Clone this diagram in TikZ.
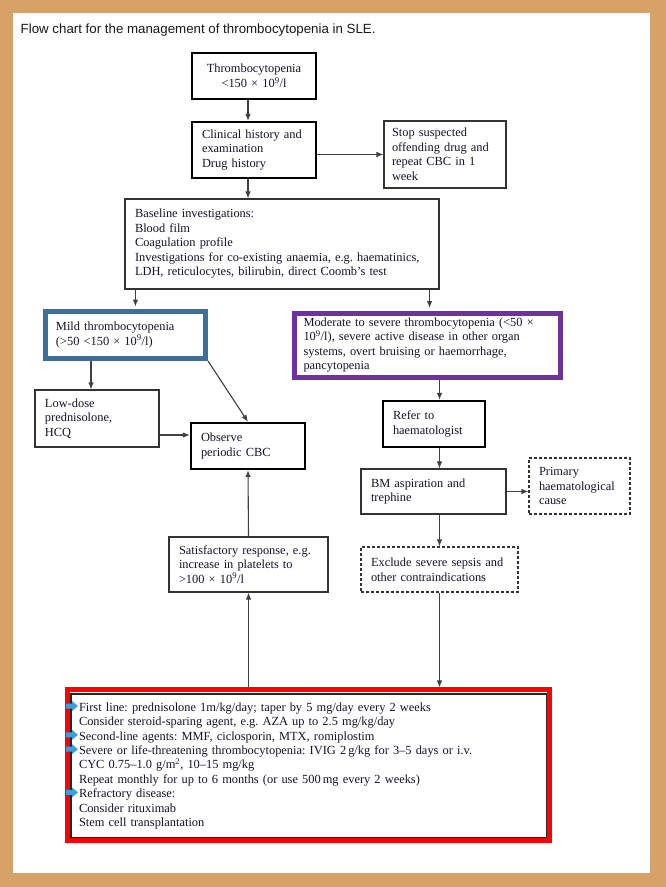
\documentclass[tikz,border=0pt]{standalone}
\usepackage{fontspec}
\setmainfont{Liberation Serif}
\newfontfamily\titlefont{Liberation Sans}
\usetikzlibrary{arrows.meta}
\usepackage{xcolor}
\frenchspacing

\definecolor{cork}{RGB}{214,162,104}
\definecolor{inkblue}{RGB}{20,20,42}
\definecolor{mildblue}{RGB}{64,110,155}
\definecolor{modpurple}{RGB}{112,48,160}
\definecolor{markcyan}{RGB}{58,160,220}

% small block arrow in front of a line of the bottom box
\newcommand{\cyanmark}[2]{%
  \fill[markcyan] (#1,#2) ++(0,-2.5) -- ++(6,0) -- ++(0,-2.5) -- ++(6,5)
    -- ++(-6,5) -- ++(0,-2.5) -- ++(-6,0) -- cycle;}

\begin{document}
\begin{tikzpicture}[x=1pt, y=-1pt,
		box/.style={rectangle, draw=black!80, line width=1.1pt, inner xsep=10pt, inner ysep=0pt,
			align=left, text=inkblue, font=\fontsize{12.4}{14.5}\selectfont},
		thickbox/.style={box, draw=black, line width=2.2pt},
		dashbox/.style={box, dash pattern=on 3pt off 2pt},
		arr/.style={draw=black!75, line width=1.1pt, -{Latex[length=7pt,width=5.5pt]}}]
		\fill[cork] (0,0) rectangle (666,887);
		\fill[white] (13,13) rectangle (650,873);
		\useasboundingbox (0,0) rectangle (666,887);

		\node[anchor=base west, inner sep=0pt, text=black!90,
			font=\titlefont\fontsize{13.3}{16}\selectfont] (title) at (20.5,33)
			{Flow chart for the management of thrombocytopenia in SLE.};

		\begin{scope}
			\node[thickbox, align=center, minimum width=124pt, minimum height=46pt, text width=104pt]
				(thromb) at (254,76) {Thrombocytopenia\\<150 × 10\textsuperscript{9}/l};
			\node[thickbox, minimum width=124pt, minimum height=56pt, text width=104pt]
				(clin) at (254,150) {Clinical history and\\examination\\Drug history};
			\node[box, inner xsep=8pt, minimum width=122pt, minimum height=67pt, text width=106pt]
				(stop) at (445,154.5) {Stop suspected\\offending drug and\\repeat CBC in 1\\week};
			\node[box, minimum width=314pt, minimum height=90pt, text width=294pt]
				(base) at (282,244) {Baseline investigations:\\Blood film\\Coagulation profile\\
				Investigations for co-existing anaemia, e.g. haematinics,\\
				LDH, reticulocytes, bilirubin, direct Coomb’s test};
			\node[box, draw=mildblue, line width=5pt, inner xsep=10.5pt, minimum width=160pt,
				minimum height=47pt, text width=139pt]
				(mild) at (125.5,335) {Mild thrombocytopenia\\(>50 <150 × 10\textsuperscript{9}/l)};
			\node[box, draw=modpurple, line width=5pt, inner xsep=9pt, minimum width=266pt,
				minimum height=64pt, text width=248pt]
				(mod) at (427.5,345) {Moderate to severe thrombocytopenia (<50 ×\\
				10\textsuperscript{9}/l), severe active disease in other organ\\
				systems, overt bruising or haemorrhage,\\pancytopenia};
			\node[box, minimum width=124pt, minimum height=57pt, text width=104pt]
				(low) at (97,418.5) {Low-dose\\prednisolone,\\HCQ};
			\node[thickbox, minimum width=114pt, minimum height=46pt, text width=94pt]
				(obs) at (248,446) {Observe\\periodic CBC};
			\node[thickbox, minimum width=102pt, minimum height=46pt, text width=82pt]
				(refer) at (434,424) {Refer to\\haematologist};
			\node[box, minimum width=145pt, minimum height=45pt, text width=125pt]
				(bm) at (433.5,491.5) {BM aspiration and\\trephine};
			\node[dashbox, minimum width=101pt, minimum height=56pt, text width=81pt]
				(prim) at (579.5,486) {Primary\\haematological\\cause};
			\node[box, minimum width=159pt, minimum height=55pt, text width=139pt]
				(sat) at (248.5,564.5) {Satisfactory response, e.g.\\increase in platelets to\\
				>100 × 10\textsuperscript{9}/l};
			\node[dashbox, minimum width=157pt, minimum height=45pt, text width=137pt]
				(excl) at (439.5,569.5) {Exclude severe sepsis and\\other contraindications};
			\node[box, draw=black!85, inner xsep=8pt, minimum width=475.5pt, minimum height=144pt,
				text width=459.5pt, font=\fontsize{12.4}{14.4}\selectfont]
				(treat) at (308.75,766) {First line: prednisolone 1m/kg/day; taper by 5 mg/day every 2 weeks\\
				Consider steroid-sparing agent, e.g. AZA up to 2.5 mg/kg/day\\
				Second-line agents: MMF, ciclosporin, MTX, romiplostim\\
				Severe or life-threatening thrombocytopenia: IVIG 2\,g/kg for 3–5 days or i.v.\\
				CYC 0.75–1.0 g/m\textsuperscript{2}, 10–15 mg/kg\\
				Repeat monthly for up to 6 months (or use 500\,mg every 2 weeks)\\
				Refractory disease:\\
				Consider rituximab\\
				Stem cell transplantation};
		\end{scope}

		% red frame round the treatment box
		\draw[red, line width=5pt] ([shift={(-2.5pt,3.5pt)}]treat.north west) coordinate (rnw)
			rectangle ([shift={(2pt,-1.5pt)}]treat.south east);
		\foreach \row in {0,2,3,6}
			{\cyanmark{66}{706+14.4*\row}}

		\begin{scope}
			\draw[arr] ([xshift=-6pt]thromb.south) -- ([xshift=-6pt]clin.north);
			\draw[arr] ([xshift=-6pt]clin.south) -- ([xshift=-6pt]clin.south |- base.north);
			\draw[arr] (clin.east |- stop.west) -- (stop.west);
			\draw[arr, shorten >=2.5pt] ([xshift=11pt]base.south west) -- ([xshift=11pt]base.south west |- mild.north);
			\draw[arr, shorten >=2.5pt] ([xshift=-10pt]base.south east) -- ([xshift=-10pt]base.south east |- mod.north);
			\draw[arr] ([xshift=-6pt]low.north |- mild.south) -- ([xshift=-6pt]low.north);
			\draw[arr] (mild.south east) -- (obs.north);
			\draw[arr] ([yshift=11pt]obs.west -| low.east) -- ([yshift=11pt]obs.west);
			\draw[arr] (mod.south -| excl.north) -- (refer.north -| excl.north);
			\draw[arr] (refer.south -| excl.north) -- (bm.north -| excl.north);
			\draw[arr] (bm.east) -- (prim.west |- bm.east);
			\draw[arr] (bm.south -| excl.north) -- (excl.north);
			\draw[arr, shorten >=2.5pt] (excl.south) -- (excl.south |- rnw);
			\draw[arr, shorten <=2.5pt] (sat.south |- rnw) -- (sat.south);
			\draw[arr] (sat.north) -- (obs.south);
		\end{scope}
	\end{tikzpicture}
\end{document}
